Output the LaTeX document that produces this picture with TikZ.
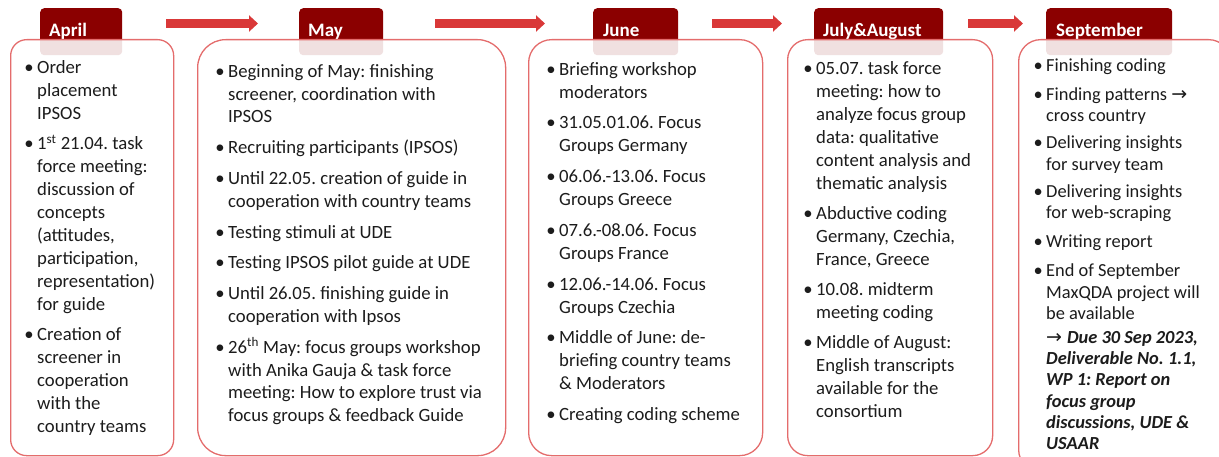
\documentclass[tikz,border=0pt]{standalone}
\usepackage{fontspec}
\setmainfont{Carlito}
\newfontfamily\arrowfont{DejaVu Sans}
\usetikzlibrary{arrows.meta}
\definecolor{tabred}{RGB}{139,0,0}
\definecolor{flowred}{RGB}{217,56,56}
\definecolor{boxline}{RGB}{228,108,108}
\definecolor{bodyink}{RGB}{28,28,28}
\newcommand\bul{\makebox[0pt][r]{\textbullet\hspace{3.5pt}}}
\newcommand\firstline{\rule{0pt}{16pt}}
\newcommand\rarr{{\arrowfont\fontsize{19}{19}\selectfont →}}
\frenchspacing
\tikzset{
  tabbox/.style={fill=tabred, draw=none, rounded corners=4pt, anchor=north west, inner sep=0pt},
  tablabel/.style={text=white, font=\fontsize{19}{22}\selectfont\bfseries, anchor=base west, inner sep=0pt},
  bodybox/.style={draw=boxline, line width=1.3pt, fill=white, fill opacity=0.88, anchor=north west, inner sep=0pt},
  bodytext/.style={text=bodyink, align=left, anchor=north west, inner sep=0pt, font=\fontsize{18.7}{23}\selectfont},
  flowarrow/.style={draw=flowred, line width=9pt, -{Triangle[length=9pt,width=16pt]}},
}
\begin{document}
\begin{tikzpicture}[x=1pt,y=-1pt]
\useasboundingbox (0,0) rectangle (1219,457);
\begin{scope}
\clip (0,0) rectangle (1219,457);
% tabs
\node[tabbox, minimum width=82, minimum height=47] (tabApr) at (40,8) {};
\node[tabbox, minimum width=84, minimum height=47] (tabMay) at (299,8) {};
\node[tabbox, minimum width=85, minimum height=47] (tabJun) at (593,8) {};
\node[tabbox, minimum width=129, minimum height=47] (tabJul) at (814,8) {};
\node[tabbox, minimum width=126, minimum height=47] (tabSep) at (1046,8) {};
\node[tablabel] (labApr) at (49,37) {April};
\node[tablabel] (labMay) at (308,37) {May};
\node[tablabel] (labJun) at (603,37) {June};
\node[tablabel] (labJul) at (823,37) {July\&August};
\node[tablabel] (labSep) at (1056,37) {September};
% arrows
\coordinate (a1s) at (166,23.5); \coordinate (a1e) at (258,23.5);
\coordinate (a2s) at (435,23.5); \coordinate (a2e) at (545,23.5);
\coordinate (a3s) at (712,23.5); \coordinate (a3e) at (782,23.5);
\coordinate (a4s) at (968,23.5); \coordinate (a4e) at (1023,23.5);
\draw[flowarrow] (a1s) -- (a1e);
\draw[flowarrow] (a2s) -- (a2e);
\draw[flowarrow] (a3s) -- (a3e);
\draw[flowarrow] (a4s) -- (a4e);
% body boxes
\node[bodybox, rounded corners=16pt, minimum width=163, minimum height=416] (boxApr) at (10,39) {};
\node[bodybox, rounded corners=28pt, minimum width=308, minimum height=416] (boxMay) at (197,39) {};
\node[bodybox, rounded corners=23pt, minimum width=234, minimum height=416] (boxJun) at (528,39) {};
\node[bodybox, rounded corners=20pt, minimum width=205, minimum height=416] (boxJul) at (787,39) {};
\node[bodybox, rounded corners=22pt, minimum width=212, minimum height=432] (boxSep) at (1018,39) {};
% texts
\node[bodytext] (txtApr) at (37,57) {\bul\firstline Order\\placement\\IPSOS\\[7.5pt]
\bul 1\textsuperscript{st} 21.04. task\\force meeting:\\discussion of\\concepts\\(attitudes,\\participation,\\representation)\\for guide\\[7pt]
\bul Creation of\\screener in\\cooperation\\with the\\country teams};
\node[bodytext, font=\fontsize{18.7}{22.8}\selectfont] (txtMay) at (228,61) {\bul\firstline Beginning of May: finishing\\screener, coordination with\\IPSOS\\[8pt]
\bul Recruiting participants (IPSOS)\\[8pt]
\bul Until 22.05. creation of guide in\\cooperation with country teams\\[8pt]
\bul Testing stimuli at UDE\\[8pt]
\bul Testing IPSOS pilot guide at UDE\\[8pt]
\bul Until 26.05. finishing guide in\\cooperation with Ipsos\\[8pt]
\bul 26\textsuperscript{th} May: focus groups workshop\\with Anika Gauja \& task force\\meeting: How to explore trust via\\focus groups \& feedback Guide};
\node[bodytext] (txtJun) at (559,59) {\bul\firstline Briefing workshop\\moderators\\[7.7pt]
\bul 31.05.01.06. Focus\\Groups Germany\\[7.7pt]
\bul 06.06.-13.06. Focus\\Groups Greece\\[7.7pt]
\bul 07.6.-08.06. Focus\\Groups France\\[7.7pt]
\bul 12.06.-14.06. Focus\\Groups Czechia\\[7.7pt]
\bul Middle of June: de-\\briefing country teams\\\& Moderators\\[7.7pt]
\bul Creating coding scheme};
\node[bodytext] (txtJul) at (816,58) {\bul\firstline 05.07. task force\\meeting: how to\\analyze focus group\\data: qualitative\\content analysis and\\thematic analysis\\[7pt]
\bul Abductive coding\\Germany, Czechia,\\France, Greece\\[7pt]
\bul 10.08. midterm\\meeting coding\\[7pt]
\bul Middle of August:\\English transcripts\\available for the\\consortium};
\node[bodytext, font=\fontsize{18.4}{21.2}\selectfont] (txtSep) at (1046,55) {\bul\firstline Finishing coding\\[8pt]
\bul Finding patterns \rarr\\cross country\\[6pt]
\bul Delivering insights\\for survey team\\[6pt]
\bul Delivering insights\\for web-scraping\\[8pt]
\bul Writing report\\[8pt]
\bul End of September\\MaxQDA project will\\be available\\[3pt]
\rarr\hspace{5pt}\textbf{\textit{Due 30 Sep 2023,}}\\\textbf{\textit{Deliverable No. 1.1,}}\\\textbf{\textit{WP 1: Report on}}\\\textbf{\textit{focus group}}\\\textbf{\textit{discussions, UDE \&}}\\\textbf{\textit{USAAR}}};
\end{scope}
\end{tikzpicture}
\end{document}
